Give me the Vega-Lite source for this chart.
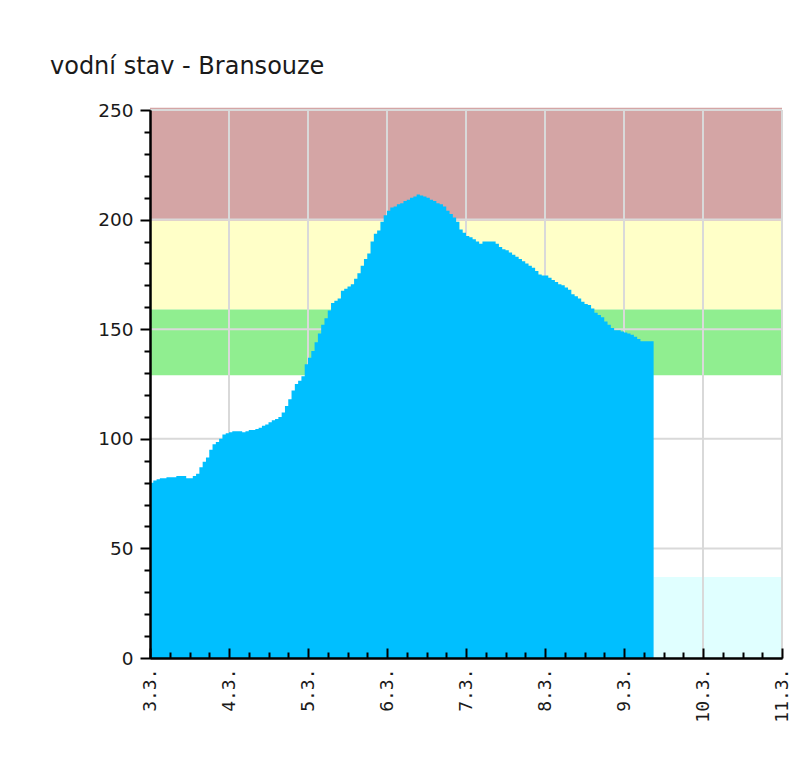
{
  "$schema": "https://vega.github.io/schema/vega-lite/v6.json",
  "width": 632,
  "height": 548,
  "autosize": {"type": "none"},
  "padding": {"left": 150, "top": 110, "right": 16, "bottom": 116},
  "background": "white",
  "title": {
    "text": "vodní stav - Bransouze",
    "anchor": "start",
    "frame": "group",
    "dx": -100,
    "offset": 22,
    "font": "DejaVu Sans",
    "fontSize": 24,
    "fontWeight": "normal",
    "color": "#1a1a1a"
  },
  "datasets": {
    "bands": [
      {"level": "3. SPA", "xs": "2024-03-03T00:00", "xe": "2024-03-11T00:00", "lo": 199.5, "hi": 251},
      {"level": "2. SPA", "xs": "2024-03-03T00:00", "xe": "2024-03-11T00:00", "lo": 159, "hi": 199.5},
      {"level": "1. SPA", "xs": "2024-03-03T00:00", "xe": "2024-03-11T00:00", "lo": 129, "hi": 159},
      {"level": "předpověď", "xs": "2024-03-09T09:00", "xe": "2024-03-11T00:00", "lo": 0, "hi": 37}
    ],
    "gridx": [
      {"t": "2024-03-04T00:00"}, {"t": "2024-03-05T00:00"}, {"t": "2024-03-06T00:00"}, {"t": "2024-03-07T00:00"},
      {"t": "2024-03-08T00:00"}, {"t": "2024-03-09T00:00"}, {"t": "2024-03-10T00:00"}, {"t": "2024-03-11T00:00"}
    ],
    "gridy": [{"v": 50}, {"v": 100}, {"v": 150}, {"v": 200}, {"v": 250}],
    "series": [
      {"t": "2024-03-03T00:00", "v": 80}, {"t": "2024-03-03T01:00", "v": 81}, {"t": "2024-03-03T02:00", "v": 81.5}, {"t": "2024-03-03T03:00", "v": 82},
      {"t": "2024-03-03T04:00", "v": 82}, {"t": "2024-03-03T05:00", "v": 82.5}, {"t": "2024-03-03T06:00", "v": 82.5}, {"t": "2024-03-03T07:00", "v": 82.5},
      {"t": "2024-03-03T08:00", "v": 83}, {"t": "2024-03-03T09:00", "v": 83}, {"t": "2024-03-03T10:00", "v": 83}, {"t": "2024-03-03T11:00", "v": 82},
      {"t": "2024-03-03T12:00", "v": 82}, {"t": "2024-03-03T13:00", "v": 83}, {"t": "2024-03-03T14:00", "v": 84}, {"t": "2024-03-03T15:00", "v": 87},
      {"t": "2024-03-03T16:00", "v": 89.5}, {"t": "2024-03-03T17:00", "v": 91.5}, {"t": "2024-03-03T18:00", "v": 95}, {"t": "2024-03-03T19:00", "v": 97.5},
      {"t": "2024-03-03T20:00", "v": 98.5}, {"t": "2024-03-03T21:00", "v": 100}, {"t": "2024-03-03T22:00", "v": 102}, {"t": "2024-03-03T23:00", "v": 102.5},
      {"t": "2024-03-04T00:00", "v": 103}, {"t": "2024-03-04T01:00", "v": 103.5}, {"t": "2024-03-04T02:00", "v": 103.5}, {"t": "2024-03-04T03:00", "v": 103.5},
      {"t": "2024-03-04T04:00", "v": 103}, {"t": "2024-03-04T05:00", "v": 103.5}, {"t": "2024-03-04T06:00", "v": 104}, {"t": "2024-03-04T07:00", "v": 104},
      {"t": "2024-03-04T08:00", "v": 104.5}, {"t": "2024-03-04T09:00", "v": 105}, {"t": "2024-03-04T10:00", "v": 106}, {"t": "2024-03-04T11:00", "v": 106.5},
      {"t": "2024-03-04T12:00", "v": 107.5}, {"t": "2024-03-04T13:00", "v": 108.5}, {"t": "2024-03-04T14:00", "v": 109}, {"t": "2024-03-04T15:00", "v": 110},
      {"t": "2024-03-04T16:00", "v": 112}, {"t": "2024-03-04T17:00", "v": 115}, {"t": "2024-03-04T18:00", "v": 118}, {"t": "2024-03-04T19:00", "v": 122},
      {"t": "2024-03-04T20:00", "v": 125}, {"t": "2024-03-04T21:00", "v": 126.5}, {"t": "2024-03-04T22:00", "v": 128.5}, {"t": "2024-03-04T23:00", "v": 134},
      {"t": "2024-03-05T00:00", "v": 137}, {"t": "2024-03-05T01:00", "v": 140}, {"t": "2024-03-05T02:00", "v": 144}, {"t": "2024-03-05T03:00", "v": 148},
      {"t": "2024-03-05T04:00", "v": 152}, {"t": "2024-03-05T05:00", "v": 155}, {"t": "2024-03-05T06:00", "v": 158.5}, {"t": "2024-03-05T07:00", "v": 162},
      {"t": "2024-03-05T08:00", "v": 163}, {"t": "2024-03-05T09:00", "v": 164}, {"t": "2024-03-05T10:00", "v": 167.5}, {"t": "2024-03-05T11:00", "v": 168.5},
      {"t": "2024-03-05T12:00", "v": 169.5}, {"t": "2024-03-05T13:00", "v": 170.5}, {"t": "2024-03-05T14:00", "v": 173}, {"t": "2024-03-05T15:00", "v": 175.5},
      {"t": "2024-03-05T16:00", "v": 179}, {"t": "2024-03-05T17:00", "v": 182}, {"t": "2024-03-05T18:00", "v": 184.5}, {"t": "2024-03-05T19:00", "v": 190},
      {"t": "2024-03-05T20:00", "v": 193.5}, {"t": "2024-03-05T21:00", "v": 195}, {"t": "2024-03-05T22:00", "v": 199}, {"t": "2024-03-05T23:00", "v": 202},
      {"t": "2024-03-06T00:00", "v": 204}, {"t": "2024-03-06T01:00", "v": 205.5}, {"t": "2024-03-06T02:00", "v": 206}, {"t": "2024-03-06T03:00", "v": 207},
      {"t": "2024-03-06T04:00", "v": 207.5}, {"t": "2024-03-06T05:00", "v": 208.5}, {"t": "2024-03-06T06:00", "v": 209}, {"t": "2024-03-06T07:00", "v": 210},
      {"t": "2024-03-06T08:00", "v": 210.5}, {"t": "2024-03-06T09:00", "v": 211.5}, {"t": "2024-03-06T10:00", "v": 211}, {"t": "2024-03-06T11:00", "v": 210.5},
      {"t": "2024-03-06T12:00", "v": 210}, {"t": "2024-03-06T13:00", "v": 209}, {"t": "2024-03-06T14:00", "v": 208.5}, {"t": "2024-03-06T15:00", "v": 207.5},
      {"t": "2024-03-06T16:00", "v": 207}, {"t": "2024-03-06T17:00", "v": 206}, {"t": "2024-03-06T18:00", "v": 204}, {"t": "2024-03-06T19:00", "v": 202.5},
      {"t": "2024-03-06T20:00", "v": 201}, {"t": "2024-03-06T21:00", "v": 199}, {"t": "2024-03-06T22:00", "v": 195.5}, {"t": "2024-03-06T23:00", "v": 194},
      {"t": "2024-03-07T00:00", "v": 192.5}, {"t": "2024-03-07T01:00", "v": 192}, {"t": "2024-03-07T02:00", "v": 191}, {"t": "2024-03-07T03:00", "v": 190},
      {"t": "2024-03-07T04:00", "v": 189}, {"t": "2024-03-07T05:00", "v": 190}, {"t": "2024-03-07T06:00", "v": 190}, {"t": "2024-03-07T07:00", "v": 190},
      {"t": "2024-03-07T08:00", "v": 190}, {"t": "2024-03-07T09:00", "v": 189}, {"t": "2024-03-07T10:00", "v": 187.5}, {"t": "2024-03-07T11:00", "v": 186.5},
      {"t": "2024-03-07T12:00", "v": 186}, {"t": "2024-03-07T13:00", "v": 185}, {"t": "2024-03-07T14:00", "v": 184}, {"t": "2024-03-07T15:00", "v": 183},
      {"t": "2024-03-07T16:00", "v": 182}, {"t": "2024-03-07T17:00", "v": 181}, {"t": "2024-03-07T18:00", "v": 180}, {"t": "2024-03-07T19:00", "v": 179},
      {"t": "2024-03-07T20:00", "v": 178}, {"t": "2024-03-07T21:00", "v": 176.5}, {"t": "2024-03-07T22:00", "v": 175}, {"t": "2024-03-07T23:00", "v": 174.5},
      {"t": "2024-03-08T00:00", "v": 174.5}, {"t": "2024-03-08T01:00", "v": 173.5}, {"t": "2024-03-08T02:00", "v": 172.5}, {"t": "2024-03-08T03:00", "v": 171.5},
      {"t": "2024-03-08T04:00", "v": 170.5}, {"t": "2024-03-08T05:00", "v": 170}, {"t": "2024-03-08T06:00", "v": 169}, {"t": "2024-03-08T07:00", "v": 168},
      {"t": "2024-03-08T08:00", "v": 166}, {"t": "2024-03-08T09:00", "v": 165}, {"t": "2024-03-08T10:00", "v": 164}, {"t": "2024-03-08T11:00", "v": 162.5},
      {"t": "2024-03-08T12:00", "v": 161.5}, {"t": "2024-03-08T13:00", "v": 161}, {"t": "2024-03-08T14:00", "v": 159.5}, {"t": "2024-03-08T15:00", "v": 157.5},
      {"t": "2024-03-08T16:00", "v": 156.5}, {"t": "2024-03-08T17:00", "v": 155.5}, {"t": "2024-03-08T18:00", "v": 153.5}, {"t": "2024-03-08T19:00", "v": 152},
      {"t": "2024-03-08T20:00", "v": 150.5}, {"t": "2024-03-08T21:00", "v": 149.5}, {"t": "2024-03-08T22:00", "v": 149.5}, {"t": "2024-03-08T23:00", "v": 149},
      {"t": "2024-03-09T00:00", "v": 148.5}, {"t": "2024-03-09T01:00", "v": 148}, {"t": "2024-03-09T02:00", "v": 147.5}, {"t": "2024-03-09T03:00", "v": 146.5},
      {"t": "2024-03-09T04:00", "v": 145.5}, {"t": "2024-03-09T05:00", "v": 144.5}, {"t": "2024-03-09T06:00", "v": 144.5}, {"t": "2024-03-09T07:00", "v": 144.5},
      {"t": "2024-03-09T08:00", "v": 144.5}, {"t": "2024-03-09T09:00", "v": 144.5}
    ]
  },
  "resolve": {"axis": {"x": "independent", "y": "independent"}},
  "layer": [
    {
      "data": {"name": "bands"},
      "mark": {"type": "rect"},
      "encoding": {
        "x": {
          "field": "xs",
          "type": "temporal",
          "scale": {"domain": [{"year": 2024, "month": 3, "date": 3, "hours": 0}, {"year": 2024, "month": 3, "date": 11, "hours": 0}], "nice": false},
          "axis": {
            "orient": "bottom",
            "title": null,
            "zindex": 1,
            "grid": false,
            "labels": false,
            "values": [
              {"year": 2024, "month": 3, "date": 3, "hours": 6}, {"year": 2024, "month": 3, "date": 3, "hours": 12}, {"year": 2024, "month": 3, "date": 3, "hours": 18},
              {"year": 2024, "month": 3, "date": 4, "hours": 6}, {"year": 2024, "month": 3, "date": 4, "hours": 12}, {"year": 2024, "month": 3, "date": 4, "hours": 18},
              {"year": 2024, "month": 3, "date": 5, "hours": 6}, {"year": 2024, "month": 3, "date": 5, "hours": 12}, {"year": 2024, "month": 3, "date": 5, "hours": 18},
              {"year": 2024, "month": 3, "date": 6, "hours": 6}, {"year": 2024, "month": 3, "date": 6, "hours": 12}, {"year": 2024, "month": 3, "date": 6, "hours": 18},
              {"year": 2024, "month": 3, "date": 7, "hours": 6}, {"year": 2024, "month": 3, "date": 7, "hours": 12}, {"year": 2024, "month": 3, "date": 7, "hours": 18},
              {"year": 2024, "month": 3, "date": 8, "hours": 6}, {"year": 2024, "month": 3, "date": 8, "hours": 12}, {"year": 2024, "month": 3, "date": 8, "hours": 18},
              {"year": 2024, "month": 3, "date": 9, "hours": 6}, {"year": 2024, "month": 3, "date": 9, "hours": 12}, {"year": 2024, "month": 3, "date": 9, "hours": 18},
              {"year": 2024, "month": 3, "date": 10, "hours": 6}, {"year": 2024, "month": 3, "date": 10, "hours": 12}, {"year": 2024, "month": 3, "date": 10, "hours": 18}
            ],
            "tickSize": -6,
            "tickWidth": 2,
            "tickColor": "black",
            "domainColor": "black",
            "domainWidth": 2
          }
        },
        "x2": {"field": "xe"},
        "y": {
          "field": "lo",
          "type": "quantitative",
          "scale": {"domain": [0, 250], "nice": false},
          "axis": {
            "orient": "left",
            "title": null,
            "zindex": 1,
            "grid": false,
            "labels": false,
            "values": [10, 20, 30, 40, 60, 70, 80, 90, 110, 120, 130, 140, 160, 170, 180, 190, 210, 220, 230, 240],
            "tickSize": 6,
            "tickWidth": 2,
            "tickColor": "black",
            "domainColor": "black",
            "domainWidth": 2
          }
        },
        "y2": {"field": "hi"},
        "color": {
          "field": "level",
          "type": "nominal",
          "scale": {"domain": ["3. SPA", "2. SPA", "1. SPA", "předpověď"], "range": ["#d4a5a5", "#ffffc8", "#90ee90", "#e0ffff"]},
          "legend": null
        }
      }
    },
    {
      "data": {"name": "gridx"},
      "mark": {"type": "rule", "color": "#d9d9d9", "strokeWidth": 2},
      "encoding": {"x": {"field": "t", "type": "temporal", "axis": null}}
    },
    {
      "data": {"name": "gridy"},
      "mark": {"type": "rule", "color": "#d9d9d9", "strokeWidth": 2},
      "encoding": {"y": {"field": "v", "type": "quantitative", "axis": null}}
    },
    {
      "data": {"name": "series"},
      "mark": {"type": "area", "interpolate": "step-after", "color": "#00bfff", "opacity": 1},
      "encoding": {
        "x": {
          "field": "t",
          "type": "temporal",
          "axis": {
            "orient": "bottom",
            "title": null,
            "zindex": 1,
            "grid": false,
            "values": [
              {"year": 2024, "month": 3, "date": 3, "hours": 0}, {"year": 2024, "month": 3, "date": 4, "hours": 0}, {"year": 2024, "month": 3, "date": 5, "hours": 0},
              {"year": 2024, "month": 3, "date": 6, "hours": 0}, {"year": 2024, "month": 3, "date": 7, "hours": 0}, {"year": 2024, "month": 3, "date": 8, "hours": 0},
              {"year": 2024, "month": 3, "date": 9, "hours": 0}, {"year": 2024, "month": 3, "date": 10, "hours": 0}, {"year": 2024, "month": 3, "date": 11, "hours": 0}
            ],
            "tickSize": -10,
            "tickWidth": 2,
            "tickColor": "black",
            "domainColor": "black",
            "domainWidth": 2,
            "labelExpr": "timeFormat(datum.value, '%-d.%-m.')",
            "labelAngle": -90,
            "labelAlign": "right",
            "labelBaseline": "middle",
            "labelPadding": 20,
            "labelFont": "DejaVu Sans Mono",
            "labelFontSize": 18,
            "labelColor": "#1a1a1a",
            "labelOverlap": false,
            "labelFlush": false
          }
        },
        "y": {
          "field": "v",
          "type": "quantitative",
          "axis": {
            "orient": "left",
            "title": null,
            "zindex": 1,
            "grid": false,
            "values": [0, 50, 100, 150, 200, 250],
            "tickSize": 10,
            "tickWidth": 2,
            "tickColor": "black",
            "domainColor": "black",
            "domainWidth": 2,
            "labelPadding": 7,
            "labelFont": "DejaVu Sans",
            "labelFontSize": 18.5,
            "labelColor": "#1a1a1a",
            "labelOverlap": false,
            "labelFlush": false
          }
        }
      }
    }
  ],
  "config": {"view": {"stroke": null}}
}
